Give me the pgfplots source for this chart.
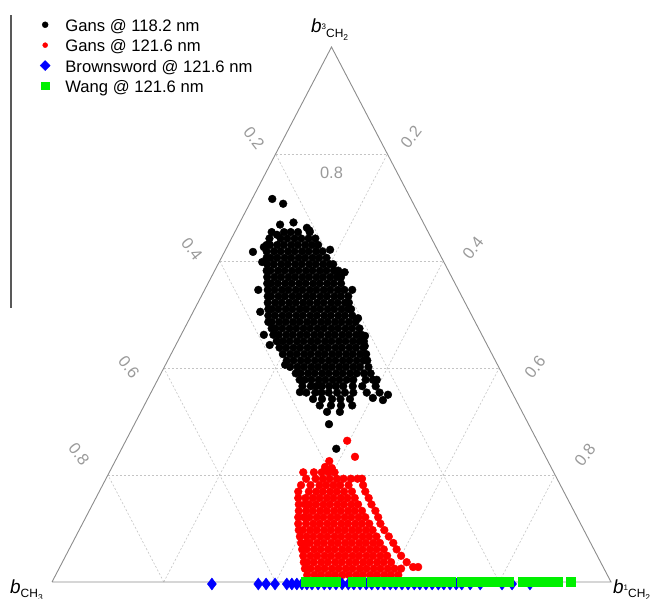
\documentclass[border=0pt]{standalone}
\usepackage{pgfplots}
\pgfplotsset{compat=1.18}
\usepackage{pgfplotstable}
\usepackage{fontspec}
\setmainfont{Liberation Sans}
\definecolor{tickgray}{HTML}{9A9A9A}
\definecolor{edgegray}{HTML}{8C8C8C}
\definecolor{gridgray}{HTML}{C4C4C4}
\definecolor{bblue}{HTML}{0000FF}
\definecolor{wgreen}{HTML}{00F000}
\tikzset{tlab/.style={text=tickgray, font=\fontsize{16.5}{16.5}\selectfont, inner sep=0pt},
  dgrid/.style={gridgray, line width=0.6bp, dash pattern=on 2bp off 2bp}}
\newcommand{\vlab}[2]{{\fontsize{19}{19}\selectfont\itshape b}\raisebox{3bp}{\fontsize{8}{8}\selectfont #1}\raisebox{-4.5bp}{\fontsize{12}{12}\selectfont CH\raisebox{-3bp}{\fontsize{8.5}{8.5}\selectfont #2}}}
% columns: b1 = b_{1CH2}, b3 = b_{3CH2}; b_{CH3} = 1 - b1 - b3
\pgfplotstableread[row sep=\\]{
b1 b3\\
0.036 0.716\\ 0.060 0.707\\ 0.051 0.617\\ 0.066 0.626\\ 0.120 0.505\\ 0.339 0.441\\ 0.422 0.340\\ 0.402 0.344\\ 0.348 0.295\\ 0.384 0.249\\ 0.333 0.318\\ 0.356 0.318\\
0.077 0.598\\ 0.096 0.546\\ 0.148 0.462\\ 0.168 0.443\\ 0.214 0.406\\ 0.266 0.355\\ 0.187 0.621\\ 0.234 0.579\\ 0.264 0.546\\ 0.301 0.493\\ 0.330 0.460\\ 0.392 0.378\\ 0.426 0.350\\
0.074 0.668\\ 0.096 0.672\\ 0.125 0.662\\ 0.132 0.657\\
0.066 0.654\\ 0.078 0.649\\ 0.088 0.654\\ 0.100 0.654\\ 0.113 0.654\\ 0.134 0.654\\
0.068 0.642\\ 0.088 0.642\\ 0.100 0.642\\ 0.113 0.642\\ 0.125 0.642\\ 0.138 0.642\\ 0.150 0.642\\
0.069 0.630\\ 0.075 0.630\\ 0.088 0.630\\ 0.100 0.630\\ 0.113 0.630\\ 0.125 0.630\\ 0.138 0.630\\ 0.150 0.630\\ 0.161 0.630\\
0.075 0.618\\ 0.088 0.618\\ 0.100 0.618\\ 0.113 0.618\\ 0.125 0.618\\ 0.138 0.618\\ 0.150 0.618\\ 0.163 0.618\\ 0.175 0.618\\
0.081 0.606\\ 0.088 0.606\\ 0.100 0.606\\ 0.113 0.606\\ 0.125 0.606\\ 0.138 0.606\\ 0.150 0.606\\ 0.163 0.606\\ 0.175 0.606\\ 0.188 0.606\\
0.088 0.594\\ 0.100 0.594\\ 0.113 0.594\\ 0.125 0.594\\ 0.138 0.594\\ 0.150 0.594\\ 0.163 0.594\\ 0.175 0.594\\ 0.188 0.594\\ 0.200 0.594\\ 0.206 0.594\\
0.093 0.582\\ 0.100 0.582\\ 0.113 0.582\\ 0.125 0.582\\ 0.138 0.582\\ 0.150 0.582\\ 0.163 0.582\\ 0.175 0.582\\ 0.188 0.582\\ 0.200 0.582\\ 0.213 0.582\\ 0.221 0.582\\
0.100 0.570\\ 0.113 0.570\\ 0.125 0.570\\ 0.138 0.570\\ 0.150 0.570\\ 0.163 0.570\\ 0.175 0.570\\ 0.188 0.570\\ 0.200 0.570\\ 0.213 0.570\\ 0.225 0.570\\ 0.232 0.570\\
0.106 0.558\\ 0.113 0.558\\ 0.125 0.558\\ 0.138 0.558\\ 0.150 0.558\\ 0.163 0.558\\ 0.175 0.558\\ 0.188 0.558\\ 0.200 0.558\\ 0.213 0.558\\ 0.225 0.558\\ 0.238 0.558\\
0.113 0.546\\ 0.125 0.546\\ 0.138 0.546\\ 0.150 0.546\\ 0.163 0.546\\ 0.175 0.546\\ 0.188 0.546\\ 0.200 0.546\\ 0.213 0.546\\ 0.225 0.546\\ 0.238 0.546\\ 0.250 0.546\\
0.119 0.534\\ 0.125 0.534\\ 0.138 0.534\\ 0.150 0.534\\ 0.163 0.534\\ 0.175 0.534\\ 0.188 0.534\\ 0.200 0.534\\ 0.213 0.534\\ 0.225 0.534\\ 0.238 0.534\\ 0.250 0.534\\ 0.263 0.534\\
0.125 0.522\\ 0.138 0.522\\ 0.150 0.522\\ 0.163 0.522\\ 0.175 0.522\\ 0.188 0.522\\ 0.200 0.522\\ 0.213 0.522\\ 0.225 0.522\\ 0.238 0.522\\ 0.250 0.522\\ 0.263 0.522\\ 0.270 0.522\\
0.132 0.510\\ 0.138 0.510\\ 0.150 0.510\\ 0.163 0.510\\ 0.175 0.510\\ 0.188 0.510\\ 0.200 0.510\\ 0.213 0.510\\ 0.225 0.510\\ 0.238 0.510\\ 0.250 0.510\\ 0.263 0.510\\ 0.275 0.510\\ 0.280 0.510\\
0.138 0.498\\ 0.150 0.498\\ 0.163 0.498\\ 0.175 0.498\\ 0.188 0.498\\ 0.200 0.498\\ 0.213 0.498\\ 0.225 0.498\\ 0.238 0.498\\ 0.250 0.498\\ 0.263 0.498\\ 0.275 0.498\\ 0.288 0.498\\
0.144 0.486\\ 0.150 0.486\\ 0.163 0.486\\ 0.175 0.486\\ 0.188 0.486\\ 0.200 0.486\\ 0.213 0.486\\ 0.225 0.486\\ 0.238 0.486\\ 0.250 0.486\\ 0.263 0.486\\ 0.275 0.486\\ 0.288 0.486\\ 0.300 0.486\\
0.156 0.474\\ 0.163 0.474\\ 0.175 0.474\\ 0.188 0.474\\ 0.200 0.474\\ 0.213 0.474\\ 0.225 0.474\\ 0.238 0.474\\ 0.250 0.474\\ 0.263 0.474\\ 0.275 0.474\\ 0.288 0.474\\ 0.300 0.474\\ 0.313 0.474\\
0.165 0.462\\ 0.175 0.462\\ 0.188 0.462\\ 0.200 0.462\\ 0.213 0.462\\ 0.225 0.462\\ 0.238 0.462\\ 0.250 0.462\\ 0.263 0.462\\ 0.275 0.462\\ 0.288 0.462\\ 0.300 0.462\\ 0.313 0.462\\ 0.323 0.462\\
0.177 0.450\\ 0.188 0.450\\ 0.200 0.450\\ 0.213 0.450\\ 0.225 0.450\\ 0.238 0.450\\ 0.250 0.450\\ 0.263 0.450\\ 0.275 0.450\\ 0.288 0.450\\ 0.300 0.450\\ 0.313 0.450\\ 0.325 0.450\\ 0.333 0.450\\
0.188 0.438\\ 0.200 0.438\\ 0.213 0.438\\ 0.225 0.438\\ 0.238 0.438\\ 0.250 0.438\\ 0.263 0.438\\ 0.275 0.438\\ 0.288 0.438\\ 0.300 0.438\\ 0.313 0.438\\ 0.325 0.438\\ 0.338 0.438\\
0.200 0.426\\ 0.213 0.426\\ 0.225 0.426\\ 0.238 0.426\\ 0.250 0.426\\ 0.263 0.426\\ 0.275 0.426\\ 0.288 0.426\\ 0.300 0.426\\ 0.313 0.426\\ 0.325 0.426\\ 0.338 0.426\\ 0.349 0.426\\
0.213 0.414\\ 0.225 0.414\\ 0.238 0.414\\ 0.250 0.414\\ 0.263 0.414\\ 0.275 0.414\\ 0.288 0.414\\ 0.300 0.414\\ 0.313 0.414\\ 0.325 0.414\\ 0.338 0.414\\ 0.350 0.414\\ 0.357 0.414\\
0.225 0.402\\ 0.238 0.402\\ 0.250 0.402\\ 0.263 0.402\\ 0.275 0.402\\ 0.288 0.402\\ 0.300 0.402\\ 0.313 0.402\\ 0.325 0.402\\ 0.338 0.402\\ 0.350 0.402\\ 0.365 0.402\\
0.241 0.390\\ 0.250 0.390\\ 0.263 0.390\\ 0.275 0.390\\ 0.288 0.390\\ 0.300 0.390\\ 0.313 0.390\\ 0.325 0.390\\ 0.338 0.390\\ 0.350 0.390\\ 0.363 0.390\\ 0.375 0.390\\
0.254 0.378\\ 0.263 0.378\\ 0.275 0.378\\ 0.288 0.378\\ 0.300 0.378\\ 0.313 0.378\\ 0.325 0.378\\ 0.338 0.378\\ 0.350 0.378\\ 0.372 0.378\\ 0.385 0.378\\
0.265 0.366\\ 0.280 0.366\\ 0.290 0.366\\ 0.300 0.366\\ 0.313 0.366\\ 0.325 0.366\\ 0.338 0.366\\ 0.355 0.366\\ 0.372 0.366\\ 0.396 0.366\\
0.278 0.354\\ 0.294 0.354\\ 0.305 0.354\\ 0.318 0.354\\ 0.333 0.354\\ 0.347 0.354\\ 0.362 0.354\\ 0.386 0.354\\ 0.409 0.354\\
0.296 0.342\\ 0.312 0.342\\ 0.330 0.342\\ 0.345 0.342\\ 0.362 0.342\\
0.314 0.330\\ 0.334 0.330\\ 0.352 0.330\\ 0.372 0.330\\
}\gansA
\pgfplotstableread[row sep=\\]{
b1 b3\\
0.396 0.264\\ 0.425 0.234\\ 0.383 0.226\\ 0.381 0.215\\ 0.394 0.213\\ 0.632 0.028\\ 0.641 0.028\\
0.347 0.205\\ 0.366 0.205\\ 0.380 0.205\\ 0.392 0.205\\ 0.403 0.205\\
0.358 0.193\\ 0.375 0.193\\ 0.388 0.193\\ 0.400 0.193\\ 0.413 0.193\\ 0.425 0.193\\ 0.438 0.193\\ 0.450 0.193\\ 0.458 0.193\\
0.355 0.181\\ 0.372 0.181\\ 0.388 0.181\\ 0.400 0.181\\ 0.413 0.181\\ 0.425 0.181\\ 0.440 0.181\\ 0.466 0.181\\
0.356 0.169\\ 0.375 0.169\\ 0.388 0.169\\ 0.400 0.169\\ 0.413 0.169\\ 0.425 0.169\\ 0.438 0.169\\ 0.452 0.169\\ 0.476 0.169\\
0.362 0.157\\ 0.375 0.157\\ 0.388 0.157\\ 0.400 0.157\\ 0.413 0.157\\ 0.425 0.157\\ 0.438 0.157\\ 0.450 0.157\\ 0.463 0.157\\ 0.488 0.157\\
0.369 0.145\\ 0.380 0.145\\ 0.388 0.145\\ 0.400 0.145\\ 0.413 0.145\\ 0.425 0.145\\ 0.438 0.145\\ 0.450 0.145\\ 0.463 0.145\\ 0.475 0.145\\ 0.499 0.145\\
0.375 0.133\\ 0.388 0.133\\ 0.400 0.133\\ 0.413 0.133\\ 0.425 0.133\\ 0.438 0.133\\ 0.450 0.133\\ 0.463 0.133\\ 0.475 0.133\\ 0.488 0.133\\ 0.512 0.133\\
0.380 0.121\\ 0.390 0.121\\ 0.400 0.121\\ 0.413 0.121\\ 0.425 0.121\\ 0.438 0.121\\ 0.450 0.121\\ 0.463 0.121\\ 0.475 0.121\\ 0.488 0.121\\ 0.500 0.121\\ 0.523 0.121\\
0.386 0.109\\ 0.400 0.109\\ 0.413 0.109\\ 0.425 0.109\\ 0.438 0.109\\ 0.450 0.109\\ 0.463 0.109\\ 0.475 0.109\\ 0.488 0.109\\ 0.500 0.109\\ 0.513 0.109\\ 0.533 0.109\\
0.393 0.097\\ 0.400 0.097\\ 0.413 0.097\\ 0.425 0.097\\ 0.438 0.097\\ 0.450 0.097\\ 0.463 0.097\\ 0.475 0.097\\ 0.488 0.097\\ 0.500 0.097\\ 0.513 0.097\\ 0.525 0.097\\ 0.546 0.097\\
0.401 0.085\\ 0.413 0.085\\ 0.425 0.085\\ 0.438 0.085\\ 0.450 0.085\\ 0.463 0.085\\ 0.475 0.085\\ 0.488 0.085\\ 0.500 0.085\\ 0.513 0.085\\ 0.525 0.085\\ 0.538 0.085\\ 0.560 0.085\\
0.409 0.073\\ 0.418 0.073\\ 0.425 0.073\\ 0.438 0.073\\ 0.450 0.073\\ 0.463 0.073\\ 0.475 0.073\\ 0.488 0.073\\ 0.500 0.073\\ 0.513 0.073\\ 0.525 0.073\\ 0.538 0.073\\ 0.550 0.073\\ 0.574 0.073\\
0.417 0.061\\ 0.425 0.061\\ 0.438 0.061\\ 0.450 0.061\\ 0.463 0.061\\ 0.475 0.061\\ 0.488 0.061\\ 0.500 0.061\\ 0.513 0.061\\ 0.525 0.061\\ 0.538 0.061\\ 0.550 0.061\\ 0.563 0.061\\ 0.586 0.061\\
0.425 0.049\\ 0.438 0.049\\ 0.450 0.049\\ 0.463 0.049\\ 0.475 0.049\\ 0.488 0.049\\ 0.500 0.049\\ 0.513 0.049\\ 0.525 0.049\\ 0.538 0.049\\ 0.550 0.049\\ 0.563 0.049\\ 0.575 0.049\\ 0.600 0.049\\
0.432 0.037\\ 0.438 0.037\\ 0.450 0.037\\ 0.463 0.037\\ 0.475 0.037\\ 0.488 0.037\\ 0.500 0.037\\ 0.513 0.037\\ 0.525 0.037\\ 0.538 0.037\\ 0.550 0.037\\ 0.563 0.037\\ 0.575 0.037\\ 0.588 0.037\\ 0.616 0.037\\
0.440 0.025\\ 0.450 0.025\\ 0.463 0.025\\ 0.475 0.025\\ 0.488 0.025\\ 0.500 0.025\\ 0.513 0.025\\ 0.525 0.025\\ 0.538 0.025\\ 0.550 0.025\\ 0.563 0.025\\ 0.575 0.025\\ 0.588 0.025\\ 0.600 0.025\\ 0.612 0.025\\
0.450 0.013\\ 0.463 0.013\\ 0.475 0.013\\ 0.488 0.013\\ 0.500 0.013\\ 0.513 0.013\\ 0.525 0.013\\ 0.538 0.013\\ 0.550 0.013\\ 0.563 0.013\\ 0.575 0.013\\ 0.588 0.013\\ 0.600 0.013\\ 0.613 0.013\\
}\gansB
\pgfplotstableread[row sep=\\]{
b1 b3\\
0.286 0\\ 0.369 0\\ 0.383 0\\ 0.399 0\\ 0.420 0\\ 0.429 0\\ 0.438 0\\ 0.447 0\\ 0.456 0\\ 0.465 0\\ 0.476 0\\ 0.487 0\\ 0.497 0\\ 0.508 0\\ 0.519 0\\ 0.530 0\\ 0.540 0\\ 0.551 0\\ 0.562 0\\ 0.572 0\\
0.583 0\\ 0.594 0\\ 0.605 0\\ 0.615 0\\ 0.626 0\\ 0.637 0\\ 0.648 0\\ 0.658 0\\ 0.669 0\\ 0.680 0\\ 0.691 0\\ 0.701 0\\ 0.712 0\\ 0.723 0\\ 0.733 0\\ 0.748 0\\ 0.766 0\\ 0.805 0\\ 0.823 0\\ 0.855 0\\
}\brown
\pgfplotstableread[row sep=\\]{
b1 b3\\
0.4535 0\\ 0.459 0\\ 0.475 0\\ 0.493 0\\ 0.507 0\\ 0.538 0\\ 0.552 0\\ 0.572 0\\ 0.583 0\\ 0.594 0\\ 0.605 0\\ 0.615 0\\ 0.626 0\\ 0.637 0\\ 0.648 0\\ 0.658 0\\ 0.669 0\\ 0.680 0\\ 0.691 0\\
0.701 0\\ 0.713 0\\ 0.733 0\\ 0.744 0\\ 0.755 0\\ 0.766 0\\ 0.776 0\\ 0.787 0\\ 0.798 0\\ 0.807 0\\ 0.817 0\\ 0.842 0\\ 0.853 0\\ 0.864 0\\ 0.875 0\\ 0.886 0\\ 0.896 0\\ 0.904 0\\ 0.928 0\\
}\wang
\begin{document}
\begin{tikzpicture}
\begin{axis}[
  at={(0,0)}, anchor=south west,
  scale only axis, width=657bp, height=599bp,
  xmin=-0.093023, xmax=1.082290, ymin=-0.031776, ymax=1.087850,
  hide axis, clip=false,
  legend style={at={(axis cs:-0.02326,1.0514)}, anchor=north west, draw=none, fill=none,
    inner sep=0pt, outer sep=0pt, row sep=4.9bp,
    font=\fontsize{16.7}{16.7}\selectfont,
    nodes={inner sep=0pt, text height=12bp, text depth=3.5bp}},
  legend cell align=left,
  legend image code/.code={\path (-6bp,0bp) (20bp,0bp); \draw[#1] plot coordinates {(0bp,2.5bp)};},
]
\addlegendimage{only marks, mark=*, black, mark size=3bp}
\addlegendimage{only marks, mark=*, red, mark size=2.5bp}
\addlegendimage{only marks, mark=diamond*, bblue, mark size=5bp, mark options={xscale=1.33}}
\addlegendimage{only marks, mark=square*, wgreen, mark size=3.6bp}
\legend{Gans @ 118.2 nm, Gans @ 121.6 nm, Brownsword @ 121.6 nm, Wang @ 121.6 nm}
% data
\addplot[only marks, mark=*, black, mark size=3.9bp, forget plot] table[x expr=\thisrow{b1}+0.5*\thisrow{b3}, y=b3]{\gansA};
\addplot[only marks, mark=*, red, mark size=3.9bp, forget plot] table[x expr=\thisrow{b1}+0.5*\thisrow{b3}, y=b3]{\gansB};
\addplot[only marks, mark=diamond*, bblue, mark size=6bp, mark options={yshift=-2bp}, forget plot] table[x expr=\thisrow{b1}+0.5*\thisrow{b3}, y=b3]{\brown};
\addplot[only marks, mark=square*, wgreen, mark size=4.6bp, forget plot] table[x expr=\thisrow{b1}+0.5*\thisrow{b3}, y=b3]{\wang};
% grid
\addplot[dgrid, forget plot] coordinates {(0.1,0.2) (0.9,0.2)};
\addplot[dgrid, forget plot] coordinates {(0.2,0.4) (0.8,0.4)};
\addplot[dgrid, forget plot] coordinates {(0.3,0.6) (0.7,0.6)};
\addplot[dgrid, forget plot] coordinates {(0.4,0.8) (0.6,0.8)};
\addplot[dgrid, forget plot] coordinates {(0.2,0) (0.6,0.8)};
\addplot[dgrid, forget plot] coordinates {(0.4,0) (0.7,0.6)};
\addplot[dgrid, forget plot] coordinates {(0.6,0) (0.8,0.4)};
\addplot[dgrid, forget plot] coordinates {(0.8,0) (0.9,0.2)};
\addplot[dgrid, forget plot] coordinates {(0.8,0) (0.4,0.8)};
\addplot[dgrid, forget plot] coordinates {(0.6,0) (0.3,0.6)};
\addplot[dgrid, forget plot] coordinates {(0.4,0) (0.2,0.4)};
\addplot[dgrid, forget plot] coordinates {(0.2,0) (0.1,0.2)};
% triangle
\addplot[edgegray, line width=0.9bp, line join=miter, forget plot] coordinates {(0,0) (1,0) (0.5,1) (0,0)};
% legend frame line
\addplot[black!65, line width=1.2bp, forget plot] coordinates {(-0.0733,1.0598) (-0.0733,0.512)};
% tick labels
\node[tlab, rotate=-52] at (axis cs:0.3614,0.8299) {0.2};
\node[tlab, rotate=-52] at (axis cs:0.2504,0.6224) {0.4};
\node[tlab, rotate=-52] at (axis cs:0.1377,0.4019) {0.6};
\node[tlab, rotate=-52] at (axis cs:0.0483,0.2393) {0.8};
\node[tlab, rotate=52] at (axis cs:0.6422,0.8318) {0.2};
\node[tlab, rotate=52] at (axis cs:0.7530,0.6243) {0.4};
\node[tlab, rotate=52] at (axis cs:0.8640,0.4019) {0.6};
\node[tlab, rotate=52] at (axis cs:0.9535,0.2374) {0.8};
\node[tlab] at (axis cs:0.5,0.764) {0.8};
\node[tlab] at (axis cs:0.5,0.564) {0.6};
\node[tlab] at (axis cs:0.5,0.366) {0.4};
\node[tlab] at (axis cs:0.5,0.160) {0.2};
% vertex labels
\node[anchor=base west, inner sep=0pt] at (axis cs:0.4633,1.0262) {\vlab{3}{2}};
\node[anchor=base west, inner sep=0pt] at (axis cs:-0.0751,-0.0206) {\vlab{}{3}};
\node[anchor=base west, inner sep=0pt] at (axis cs:1.0036,-0.0206) {\vlab{1}{2}};
\end{axis}
\pgfresetboundingbox
\path[use as bounding box] (0,0) rectangle (657bp,599bp);
\end{tikzpicture}
\end{document}
